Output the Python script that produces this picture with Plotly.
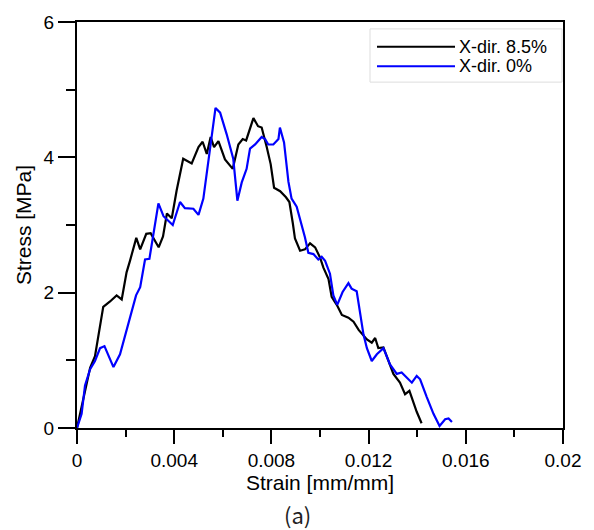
import plotly.graph_objects as go

# ---- data ----
strain_85 = [0, 0.00054, 0.00074, 0.00108, 0.00136, 0.00163, 0.00184, 0.00204, 0.00218, 0.00244,
             0.0026, 0.00285, 0.00303, 0.00336, 0.00354, 0.0037, 0.0039, 0.0041, 0.00437, 0.00472,
             0.005, 0.00517, 0.00534, 0.0055, 0.00564, 0.00582, 0.00609, 0.00641, 0.00664, 0.00682,
             0.00696, 0.00726, 0.00745, 0.0076, 0.00781, 0.00797, 0.00811, 0.00836, 0.0086, 0.00874,
             0.00888, 0.00897, 0.00918, 0.00938, 0.00959, 0.0098, 0.01, 0.01014, 0.01035, 0.01048,
             0.01069, 0.0109, 0.01117, 0.01138, 0.01159, 0.01193, 0.01213, 0.01227, 0.0124, 0.01261,
             0.01282, 0.01302, 0.01329, 0.0135, 0.01368, 0.01398, 0.01418]
stress_85 = [0, 0.89, 1.06, 1.79, 1.87, 1.96, 1.90, 2.30, 2.47, 2.81,
             2.64, 2.87, 2.88, 2.67, 2.83, 3.17, 3.10, 3.51, 3.98, 3.91,
             4.15, 4.23, 4.05, 4.30, 4.15, 4.24, 3.97, 3.83, 4.19, 4.27,
             4.25, 4.58, 4.46, 4.44, 4.15, 3.90, 3.55, 3.50, 3.41, 3.34,
             3.03, 2.80, 2.62, 2.64, 2.73, 2.67, 2.52, 2.37, 2.20, 1.94,
             1.82, 1.67, 1.63, 1.57, 1.45, 1.31, 1.26, 1.33, 1.18, 1.19,
             0.99, 0.80, 0.67, 0.50, 0.55, 0.24, 0.07]

strain_0 = [0, 0.00019, 0.00033, 0.00054, 0.00074, 0.00095, 0.00113, 0.0015, 0.00177, 0.00204,
            0.00243, 0.0026, 0.0028, 0.00298, 0.00312, 0.00335, 0.00356, 0.00394, 0.00424, 0.00444,
            0.00479, 0.005, 0.0052, 0.0054, 0.0057, 0.00589, 0.00616, 0.00643, 0.0066, 0.00678,
            0.00698, 0.00712, 0.00733, 0.0076, 0.00774, 0.00787, 0.00808, 0.00829, 0.00835, 0.00852,
            0.0087, 0.00883, 0.00904, 0.00938, 0.00952, 0.00973, 0.00993, 0.01007, 0.01021, 0.01041,
            0.01055, 0.01071, 0.01093, 0.01117, 0.0113, 0.01151, 0.01179, 0.01193, 0.01213, 0.01234,
            0.01261, 0.01288, 0.01316, 0.01336, 0.01357, 0.01378, 0.01398, 0.01412, 0.01439, 0.01467,
            0.01492, 0.01515, 0.01529, 0.01543]
stress_0 = [0, 0.21, 0.63, 0.87, 0.99, 1.18, 1.21, 0.90, 1.09, 1.43,
            1.96, 2.08, 2.49, 2.50, 2.83, 3.32, 3.13, 3.00, 3.34, 3.25,
            3.24, 3.15, 3.39, 3.95, 4.73, 4.66, 4.34, 3.98, 3.36, 3.63,
            3.83, 4.13, 4.19, 4.30, 4.27, 4.19, 4.19, 4.27, 4.44, 4.22,
            3.64, 3.39, 3.27, 2.82, 2.59, 2.57, 2.49, 2.53, 2.47, 2.28,
            1.96, 1.82, 2.01, 2.14, 2.06, 2.02, 1.38, 1.18, 0.99, 1.09,
            1.18, 0.94, 0.80, 0.82, 0.75, 0.67, 0.77, 0.72, 0.46, 0.21,
            0.03, 0.13, 0.14, 0.09]

series_names = ["X-dir. 8.5%", "X-dir. 0%"]
series_colors = ["#000000", "#0000FF"]

x_tickvals = [0, 0.004, 0.008, 0.012, 0.016, 0.02]
x_ticktext = ["0", "0.004", "0.008", "0.012", "0.016", "0.02"]
y_tickvals = [0, 2, 4, 6]
y_ticktext = ["0", "2", "4", "6"]

W, H = 594, 530
L, R, T, B = 77, 31, 16, 102
PW, PH = W - L - R, H - T - B


def px_x(p):
    return (p - L) / PW


def px_y(p):
    return (H - B - p) / PH


fig = go.Figure()
fig.add_trace(go.Scatter(x=strain_85, y=stress_85, mode="lines", name=series_names[0],
                         line=dict(color=series_colors[0], width=2.2), showlegend=False))
fig.add_trace(go.Scatter(x=strain_0, y=stress_0, mode="lines", name=series_names[1],
                         line=dict(color=series_colors[1], width=2.2), showlegend=False))

tickfont = dict(family="Liberation Sans", size=19, color="#000")
titlefont = dict(family="Liberation Sans", size=21, color="#000")

fig.update_xaxes(range=[0, 0.02], tickvals=x_tickvals, ticktext=x_ticktext,
                 showline=True, linecolor="#000", linewidth=2, mirror=True,
                 ticks="outside", ticklen=14, tickwidth=2, tickcolor="#000",
                 minor=dict(dtick=0.002, tick0=0, ticks="outside", ticklen=7, tickwidth=2, tickcolor="#000"),
                 showgrid=False, zeroline=False, tickfont=tickfont,
                 title=dict(text="Strain [mm/mm]", font=titlefont, standoff=2))
fig.update_yaxes(range=[0, 6], tickvals=y_tickvals, ticktext=y_ticktext,
                 showline=True, linecolor="#000", linewidth=2, mirror=True,
                 ticks="outside", ticklen=17, tickwidth=2, tickcolor="#000",
                 minor=dict(dtick=1, tick0=0, ticks="outside", ticklen=9, tickwidth=2, tickcolor="#000"),
                 showgrid=False, zeroline=False, tickfont=tickfont,
                 title=dict(text="Stress [MPa]", font=titlefont, standoff=6))

# manual legend box
leg_shapes = [
    dict(type="rect", xref="paper", yref="paper", x0=px_x(370), x1=px_x(562), y0=px_y(77), y1=px_y(23),
         line=dict(color="#dddddd", width=1), fillcolor="white", layer="below"),
]
leg_rows = [41, 61]
annotations = []
for name, col, yy in zip(series_names, series_colors, leg_rows):
    leg_shapes.append(dict(type="line", xref="paper", yref="paper", x0=px_x(377), x1=px_x(455),
                           y0=px_y(yy), y1=px_y(yy), line=dict(color=col, width=2)))
    annotations.append(dict(xref="paper", yref="paper", x=px_x(457), y=px_y(yy), text=name,
                            showarrow=False, xanchor="left", yanchor="middle",
                            font=dict(family="Liberation Sans", size=18, color="#000")))

annotations.append(dict(xref="paper", yref="paper", x=px_x(297), y=px_y(515), text="(a)",
                        showarrow=False, xanchor="center", yanchor="middle",
                        font=dict(family="Noto Sans CJK KR", size=22, color="#222")))

fig.update_layout(width=W, height=H, margin=dict(l=L, r=R, t=T, b=B),
                  paper_bgcolor="white", plot_bgcolor="white",
                  shapes=leg_shapes, annotations=annotations, showlegend=False)

fig.write_html("out.html")
